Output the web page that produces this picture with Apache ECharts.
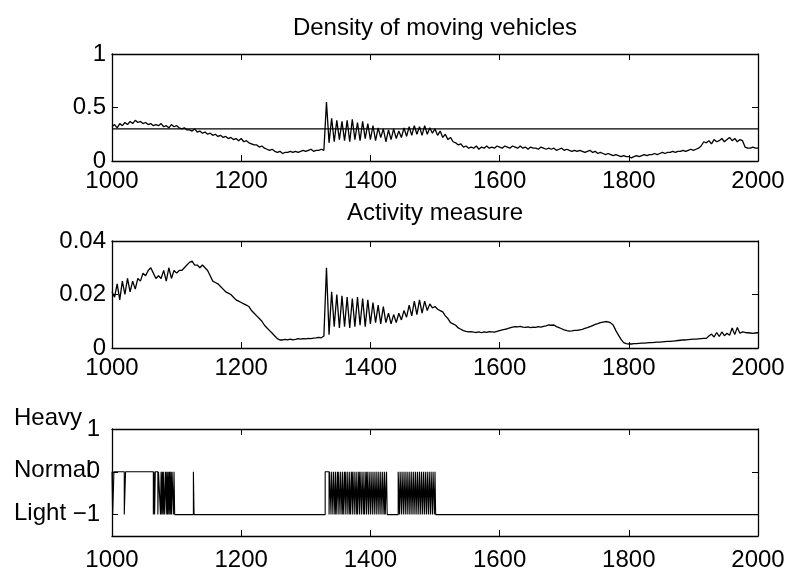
<!DOCTYPE html>
<html><head><meta charset="utf-8">
<script src="https://cdn.jsdelivr.net/npm/echarts@6/dist/echarts.min.js"></script>
<style>html,body{margin:0;padding:0;background:#fff}#c{width:790px;height:572px}</style>
</head><body><div id="c"></div>
<script>
// ---- data ----
const xStart = 1000, xStep = 4;
const xMin = 1000, xMax = 2000, xInterval = 200;
const densityValues = [
.32,.34,.31,.35,.33,.36,.34,.37,.35,.38,
.36,.37,.35,.36,.34,.35,.33,.34,.33,.35,
.32,.33,.31,.34,.32,.33,.31,.30,.31,.29,
.29,.28,.30,.27,.28,.26,.27,.25,.26,.24,
.25,.23,.24,.22,.23,.21,.22,.20,.21,.19,
.21,.18,.19,.17,.16,.15,.15,.13,.14,.12,
.11,.10,.11,.09,.08,.09,.07,.08,.08,.09,
.08,.09,.08,.09,.10,.09,.10,.11,.09,.10,
.10,.11,.10,.55,.17,.40,.18,.38,.20,.37,
.19,.38,.18,.39,.20,.36,.19,.37,.21,.35,
.20,.33,.19,.31,.22,.30,.18,.29,.20,.30,
.21,.28,.22,.31,.23,.32,.24,.33,.25,.32,
.24,.33,.25,.31,.26,.30,.24,.28,.22,.25,
.20,.22,.18,.17,.15,.16,.13,.14,.12,.13,
.12,.14,.11,.13,.12,.14,.12,.13,.12,.14,
.13,.12,.14,.13,.12,.14,.13,.12,.14,.12,
.13,.11,.13,.12,.12,.11,.13,.12,.11,.12,
.11,.12,.10,.11,.12,.10,.11,.10,.09,.10,
.09,.10,.09,.08,.09,.10,.08,.09,.07,.08,
.07,.06,.07,.06,.05,.06,.05,.04,.05,.04,
.04,.03,.04,.05,.04,.05,.06,.05,.06,.06,
.07,.06,.07,.08,.07,.08,.08,.09,.08,.09,
.09,.10,.09,.10,.11,.10,.11,.12,.14,.18,
.17,.19,.16,.20,.18,.19,.21,.18,.20,.22,
.19,.21,.18,.20,.19,.13,.12,.12,.13,.12,
.12];
const densityThreshold = 0.3;
const activityValues = [
.021,.019,.024,.018,.025,.020,.026,.021,.025,.022,
.026,.025,.028,.027,.029,.030,.028,.026,.027,.026,
.029,.025,.030,.026,.029,.028,.029,.029,.030,.031,
.032,.0325,.031,.031,.030,.031,.030,.029,.027,.025,
.0245,.024,.023,.022,.021,.0205,.020,.019,.018,.0175,
.017,.0165,.016,.0155,.014,.013,.012,.011,.010,.0085,
.0075,.0065,.0055,.0045,.0035,.003,.003,.0032,.003,.0033,
.003,.0032,.0035,.0033,.0035,.0034,.0036,.0035,.0037,.0038,
.004,.0038,.0045,.030,.005,.021,.008,.020,.0075,.0195,
.008,.019,.0075,.0185,.008,.019,.0085,.0185,.008,.018,
.009,.017,.0095,.016,.009,.0155,.0095,.013,.009,.0125,
.0095,.013,.0105,.014,.0115,.016,.012,.0175,.0125,.018,
.013,.0175,.014,.0165,.015,.0155,.0145,.014,.0135,.012,
.011,.0095,.009,.0085,.0075,.007,.0065,.0062,.006,.0061,
.0059,.0058,.006,.0057,.006,.0058,.0061,.006,.0059,.0062,
.0065,.0068,.007,.0072,.0075,.0078,.008,.0079,.0081,.0078,
.0077,.0079,.0076,.0078,.0077,.008,.0078,.0081,.0083,.0086,
.0085,.0086,.008,.0076,.0072,.0068,.0065,.0063,.0064,.0066,
.0066,.0068,.007,.0073,.0076,.008,.0084,.0088,.0091,.0095,
.0097,.0099,.0098,.0094,.0085,.0065,.0048,.0032,.002,.0016,
.0015,.0015,.0016,.0016,.0017,.0018,.0018,.0019,.002,.002,
.0021,.0022,.0022,.0023,.0024,.0025,.0025,.0026,.0027,.0028,
.0029,.003,.003,.0031,.0032,.0033,.0033,.0034,.0035,.0036,
.0036,.0045,.0052,.0041,.0058,.0043,.0060,.0046,.0055,.0048,
.0075,.0050,.0077,.0055,.0060,.0058,.0057,.0056,.0055,.0056,
.0057];
// traffic state changes: [time, new state]  (0 = Normal, -1 = Light)
const stateChanges = [
[1000,0],[1001,-1],[1003,0],[1019,-1],[1021,0],[1064,-1],[1065,0],[1066,-1],[1067,0],[1071,-1],[1072,0],
[1075,-1],[1076,0],[1077,-1],[1078,0],[1079,-1],[1080,0],[1081,-1],[1083,0],[1084,-1],[1085,0],[1086,-1],
[1087,0],[1088,-1],[1089,0],[1090,-1],[1091,0],[1092,-1],[1093,0],[1095,-1],[1096,0],[1097,-1],[1126,0],[1127,-1],
[1330,0],[1336,-1],[1337,0],[1339,-1],[1340,0],[1342,-1],[1343,0],[1345,-1],[1346,0],[1347,-1],[1349,0],
[1350,-1],[1351,0],[1353,-1],[1354,0],[1356,-1],[1357,0],[1358,-1],[1360,0],[1361,-1],[1362,0],[1364,-1],
[1365,0],[1367,-1],[1368,0],[1369,-1],[1371,0],[1372,-1],[1373,0],[1375,-1],[1376,0],[1378,-1],[1379,0],
[1380,-1],[1382,0],[1383,-1],[1384,0],[1386,-1],[1387,0],[1389,-1],[1390,0],[1391,-1],[1393,0],[1394,-1],
[1395,0],[1397,-1],[1398,0],[1400,-1],[1401,0],[1403,-1],[1404,0],[1406,-1],[1407,0],[1409,-1],[1410,0],
[1412,-1],[1413,0],[1415,-1],[1416,0],[1418,-1],[1419,0],[1421,-1],[1422,0],[1423,-1],[1425,0],[1426,-1],
[1443,0],[1445,-1],[1446,0],[1448,-1],[1449,0],[1451,-1],[1452,0],[1454,-1],[1455,0],[1457,-1],[1458,0],
[1460,-1],[1461,0],[1463,-1],[1464,0],[1466,-1],[1467,0],[1469,-1],[1470,0],[1472,-1],[1473,0],[1475,-1],
[1476,0],[1478,-1],[1479,0],[1481,-1],[1482,0],[1484,-1],[1485,0],[1487,-1],[1488,0],[1490,-1],[1491,0],
[1493,-1],[1494,0],[1496,-1],[1497,0],[1499,-1],[1500,0],[1501,-1],[2000,-1]];
const stateTicks = [-1, 0, 1];
const stateNames = ['Heavy', 'Normal', 'Light'];
const plotTitles = ['Density of moving vehicles', 'Activity measure'];

// ---- build ----
const FONT = "'Liberation Sans', Arial, Helvetica, sans-serif";
const FS = 24;
const toPairs = vals => vals.map((v, i) => [xStart + i * xStep, v]);
// piecewise-constant (stairs) path: hold previous value until the change time
const statePairs = [];
stateChanges.forEach((c, i) => {
  if (i > 0) statePairs.push([c[0], stateChanges[i - 1][1]]);
  statePairs.push([c[0], c[1]]);
});

const grids = [
  {left: 112, top: 54, width: 646, height: 107},
  {left: 112, top: 241, width: 646, height: 107},
  {left: 112, top: 429, width: 646, height: 107}
];
const axLine = {show: true, onZero: false, lineStyle: {color: '#000', width: 1.3}};
const tick = {show: true, inside: true, length: 6, lineStyle: {color: '#000', width: 1}};
const minus = v => String(v).replace('-', '\u2212');
const plain = v => String(v);

const xAxes = [], yAxes = [];
const xMargins = [8, 8, 12];
for (let g = 0; g < 3; g++) {
  xAxes.push({type: 'value', gridIndex: g, position: 'bottom', min: xMin, max: xMax, interval: xInterval,
    axisLine: axLine, axisTick: tick, splitLine: {show: false},
    axisLabel: {color: '#000', fontSize: FS, fontFamily: FONT, margin: xMargins[g], formatter: plain,
      showMinLabel: true, showMaxLabel: true}});
  xAxes.push({type: 'value', gridIndex: g, position: 'top', min: xMin, max: xMax, interval: xInterval,
    axisLine: axLine, axisTick: tick, splitLine: {show: false}, axisLabel: {show: false}});
}
const yCfg = [
  {min: 0, max: 1, interval: 0.5, margin: 6},
  {min: 0, max: 0.04, interval: 0.02, margin: 6},
  {min: -1.5, max: 1, margin: 12, custom: stateTicks}
];
yCfg.forEach((c, g) => {
  const base = {type: 'value', gridIndex: g, min: c.min, max: c.max, splitLine: {show: false}, axisLine: axLine};
  if (c.interval) base.interval = c.interval;
  const tk = Object.assign({}, tick);
  if (c.custom) tk.customValues = c.custom;
  const left = Object.assign({}, base, {position: 'left', axisTick: tk,
    axisLabel: {color: '#000', fontSize: FS, fontFamily: FONT, margin: c.margin, formatter: minus,
      showMinLabel: true, showMaxLabel: true}});
  if (c.custom) left.axisLabel.customValues = c.custom;
  const right = Object.assign({}, base, {position: 'right', axisTick: tk, axisLabel: {show: false}});
  yAxes.push(left, right);
});

const lineSeries = (xi, yi, data, extra) => Object.assign({
  type: 'line', xAxisIndex: xi, yAxisIndex: yi, data: data, showSymbol: false, symbol: 'none',
  silent: true, animation: false, lineStyle: {color: '#000', width: 1.3}
}, extra || {});

const series = [
  lineSeries(0, 0, toPairs(densityValues)),
  lineSeries(0, 0, [[xMin, densityThreshold], [xMax, densityThreshold]], {lineStyle: {color: '#000', width: 1.1}}),
  lineSeries(2, 2, toPairs(activityValues)),
  lineSeries(4, 4, statePairs, {lineStyle: {color: '#000', width: 1.1, join: 'bevel'}})
];

const textStyle = (txt, x, y, align) => ({type: 'text', x: x, y: y,
  style: {text: txt, fill: '#000', font: FS + 'px ' + FONT, textAlign: align, textVerticalAlign: 'middle'}});

const chart = echarts.init(document.getElementById('c'), null, {renderer: 'canvas'});
chart.setOption({
  backgroundColor: '#fff',
  animation: false,
  grid: grids,
  xAxis: xAxes,
  yAxis: yAxes,
  series: series,
  graphic: [
    textStyle(plotTitles[0], 435, 28, 'center'),
    textStyle(plotTitles[1], 435, 213, 'center'),
    textStyle(stateNames[0], 14, 418, 'left'),
    textStyle(stateNames[1], 14, 470, 'left'),
    textStyle(stateNames[2], 14, 513, 'left')
  ]
});
</script></body></html>
